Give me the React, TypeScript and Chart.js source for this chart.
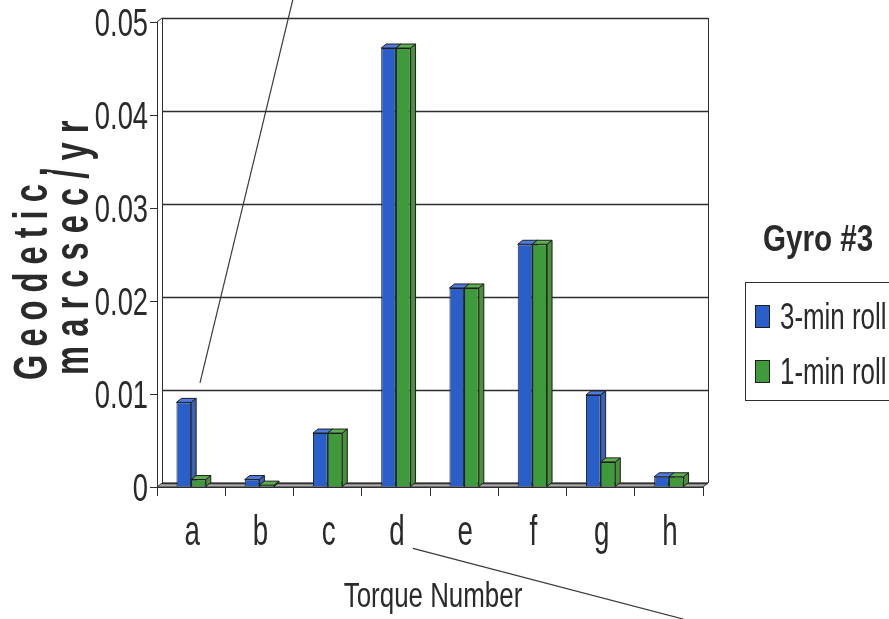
import React, { useEffect, useRef } from 'react';
import { Chart, registerables } from 'chart.js';

Chart.register(...registerables);

// ---------- data ----------
const categories = ['a', 'b', 'c', 'd', 'e', 'f', 'g', 'h'];
const seriesNames = ['3-min roll', '1-min roll'];
const threeMinRoll = [0.0091, 0.0008, 0.0058, 0.0472, 0.0214, 0.0261, 0.0099, 0.0011];
const oneMinRoll = [0.0008, 0.0002, 0.0058, 0.0472, 0.0214, 0.0261, 0.0027, 0.0011];
const yTicks = [0, 0.01, 0.02, 0.03, 0.04, 0.05];
const legendTitle = 'Gyro #3';
const xTitle = 'Torque Number';
const yTitleLines = ['Geodetic,', 'marcsec/yr'];
// leader lines drawn on the figure, in data units: [category index, value]
const leaderLineA = [[0.13, 0.0112], [1.49, 0.0524]];
const leaderLineB = [[3.25, -0.0066], [7.21, -0.0142]];

// ---------- styles ----------
const FONT = '"Liberation Sans", Arial, sans-serif';
const TEXT = '#2a2a2a';
const LINE = '#2e2e2e';
const BLUE = '#2a5fc9';
const BLUE_SIDE = '#3c62b8';
const BLUE_TOP = '#4d7be0';
const GREEN = '#3f9a3c';
const GREEN_SIDE = '#4a8f3a';
const GREEN_TOP = '#5db04f';
const DX = 5;
const DY = -4;

const faceColors = [
  { side: BLUE_SIDE, top: BLUE_TOP },
  { side: GREEN_SIDE, top: GREEN_TOP },
];

type TextOpts = {
  font: string;
  sx: number;
  align: CanvasTextAlign;
  spacing?: number;
  rotate?: boolean;
};

function drawText(ctx: CanvasRenderingContext2D, text: string, x: number, y: number, o: TextOpts) {
  ctx.save();
  ctx.translate(x, y);
  if (o.rotate) ctx.rotate(-Math.PI / 2);
  ctx.scale(o.sx, 1);
  ctx.font = o.font;
  ctx.textAlign = o.align;
  ctx.textBaseline = 'alphabetic';
  (ctx as any).letterSpacing = (o.spacing || 0) + 'px';
  ctx.fillText(text, 0, 0);
  (ctx as any).letterSpacing = '0px';
  ctx.restore();
}

const frame3d = {
  id: 'frame3d',
  beforeDatasetsDraw(chart: any) {
    const { ctx, chartArea: ca, scales } = chart;
    const y = scales.y;
    const y0 = y.getPixelForValue(0);
    const yTop = y.getPixelForValue(yTicks[yTicks.length - 1]);
    ctx.save();
    ctx.lineWidth = 1;
    ctx.strokeStyle = LINE;
    // floor
    ctx.fillStyle = '#a9a9a9';
    ctx.beginPath();
    ctx.moveTo(ca.left, y0);
    ctx.lineTo(ca.left + DX, y0 + DY);
    ctx.lineTo(ca.right + DX, y0 + DY);
    ctx.lineTo(ca.right, y0);
    ctx.closePath();
    ctx.fill();
    ctx.stroke();
    // back wall grid lines
    ctx.lineWidth = 1.6;
    yTicks.forEach((v) => {
      const py = Math.round(y.getPixelForValue(v) + DY) + 0.5;
      ctx.beginPath();
      ctx.moveTo(ca.left + DX, py);
      ctx.lineTo(ca.right + DX, py);
      ctx.stroke();
    });
    ctx.lineWidth = 1;
    // wall edges
    ctx.beginPath();
    ctx.moveTo(ca.left + DX + 0.5, yTop + DY);
    ctx.lineTo(ca.left + DX + 0.5, y0 + DY);
    ctx.moveTo(ca.right + DX + 0.5, yTop + DY);
    ctx.lineTo(ca.right + DX + 0.5, y0 + DY);
    ctx.moveTo(ca.left, yTop);
    ctx.lineTo(ca.left + DX, yTop + DY);
    ctx.stroke();
    // bar depth faces
    ctx.strokeStyle = '#1e1e1e';
    chart.data.datasets.forEach((ds: any, di: number) => {
      const meta = chart.getDatasetMeta(di);
      meta.data.forEach((bar: any) => {
        const p = bar.getProps(['x', 'y', 'base', 'width'], true);
        const l = p.x - p.width / 2;
        const r = p.x + p.width / 2;
        const top = p.y;
        const base = p.base;
        ctx.fillStyle = faceColors[di].side;
        ctx.beginPath();
        ctx.moveTo(r, top);
        ctx.lineTo(r + DX, top + DY);
        ctx.lineTo(r + DX, base + DY);
        ctx.lineTo(r, base);
        ctx.closePath();
        ctx.fill();
        ctx.stroke();
        ctx.fillStyle = faceColors[di].top;
        ctx.beginPath();
        ctx.moveTo(l, top);
        ctx.lineTo(l + DX, top + DY);
        ctx.lineTo(r + DX, top + DY);
        ctx.lineTo(r, top);
        ctx.closePath();
        ctx.fill();
        ctx.stroke();
      });
    });
    ctx.restore();
  },
};

const decorations = {
  id: 'decorations',
  afterDraw(chart: any) {
    const { ctx, chartArea: ca, scales } = chart;
    const x = scales.x;
    const y = scales.y;
    const y0 = y.getPixelForValue(0);
    ctx.save();
    // leader lines
    ctx.strokeStyle = '#3a3a3a';
    ctx.lineWidth = 1.2;
    [leaderLineA, leaderLineB].forEach((ln) => {
      ctx.beginPath();
      ctx.moveTo(x.getPixelForValue(ln[0][0]), y.getPixelForValue(ln[0][1]));
      ctx.lineTo(x.getPixelForValue(ln[1][0]), y.getPixelForValue(ln[1][1]));
      ctx.stroke();
    });
    ctx.fillStyle = TEXT;
    // y tick labels
    y.ticks.forEach((t: any) => {
      const py = y.getPixelForValue(t.value);
      drawText(ctx, String(t.label), ca.left - 9, py + 14, { font: '39px ' + FONT, sx: 0.7, align: 'right' });
    });
    // x tick labels
    x.ticks.forEach((t: any, i: number) => {
      const px = x.getPixelForTick(i);
      drawText(ctx, String(t.label), px + 1, y0 + 58, { font: '42px ' + FONT, sx: 0.66, align: 'center' });
    });
    // x title
    drawText(ctx, xTitle, (ca.left + ca.right) / 2 + 3, y0 + 120, { font: '35px ' + FONT, sx: 0.74, align: 'center' });
    // y title (two rotated, letter-spaced lines)
    drawText(ctx, yTitleLines[0], 47, y0 - 107, { font: 'bold 48px ' + FONT, sx: 0.68, align: 'left', spacing: 11.8, rotate: true });
    drawText(ctx, yTitleLines[1], 88, y0 - 112, { font: 'bold 48px ' + FONT, sx: 0.68, align: 'left', spacing: 13.4, rotate: true });
    // legend
    const lx = ca.right + 42;
    drawText(ctx, legendTitle, lx + 18, 251, { font: 'bold 37px ' + FONT, sx: 0.8, align: 'left' });
    ctx.strokeStyle = LINE;
    ctx.lineWidth = 1;
    ctx.strokeRect(lx + 0.5, 282.5, 200, 118);
    chart.data.datasets.forEach((ds: any, i: number) => {
      const cy = 316 + i * 55;
      ctx.fillStyle = ds.backgroundColor;
      ctx.fillRect(lx + 10, cy - 11, 15, 23);
      ctx.strokeStyle = '#1e1e1e';
      ctx.strokeRect(lx + 10.5, cy - 10.5, 14, 22);
      ctx.fillStyle = TEXT;
      drawText(ctx, ds.label, lx + 35, cy + 13, { font: '37px ' + FONT, sx: 0.7, align: 'left' });
    });
    ctx.restore();
  },
};

export default function App() {
  const ref = useRef<HTMLCanvasElement | null>(null);
  useEffect(() => {
    if (!ref.current) return;
    const chart = new Chart(ref.current, {
      type: 'bar',
      data: {
        labels: categories,
        datasets: [
          {
            label: seriesNames[0],
            data: threeMinRoll,
            backgroundColor: BLUE,
            borderColor: '#1e1e1e',
            borderWidth: 1,
            categoryPercentage: 0.43,
            barPercentage: 1.0,
          },
          {
            label: seriesNames[1],
            data: oneMinRoll,
            backgroundColor: GREEN,
            borderColor: '#1e1e1e',
            borderWidth: 1,
            categoryPercentage: 0.43,
            barPercentage: 1.0,
          },
        ],
      },
      options: {
        animation: false,
        responsive: true,
        maintainAspectRatio: false,
        devicePixelRatio: 1,
        layout: { padding: { top: 22, right: 186, bottom: 0, left: 0 } },
        plugins: {
          legend: { display: false },
          tooltip: { enabled: false },
        },
        scales: {
          x: {
            type: 'category',
            offset: true,
            grid: { offset: true, drawOnChartArea: false, drawTicks: true, tickLength: 9, color: LINE },
            border: { display: true, color: LINE, width: 1 },
            ticks: { display: false },
            title: { display: false, text: xTitle },
            afterFit: (s: any) => {
              s.height = 132;
            },
          },
          y: {
            min: 0,
            max: 0.05,
            afterBuildTicks: (s: any) => {
              s.ticks = yTicks.map((v) => ({ value: v }));
            },
            grid: { drawOnChartArea: false, drawTicks: true, tickLength: 7, color: LINE },
            border: { display: true, color: LINE, width: 1 },
            ticks: { display: false },
            afterFit: (s: any) => {
              s.width = 157;
            },
          },
        },
      },
      plugins: [frame3d, decorations],
    } as any);
    return () => chart.destroy();
  }, []);
  return (
    <div style={{ position: 'fixed', left: 0, top: 0, width: 889, height: 619, background: '#ffffff' }}>
      <canvas ref={ref} />
    </div>
  );
}
